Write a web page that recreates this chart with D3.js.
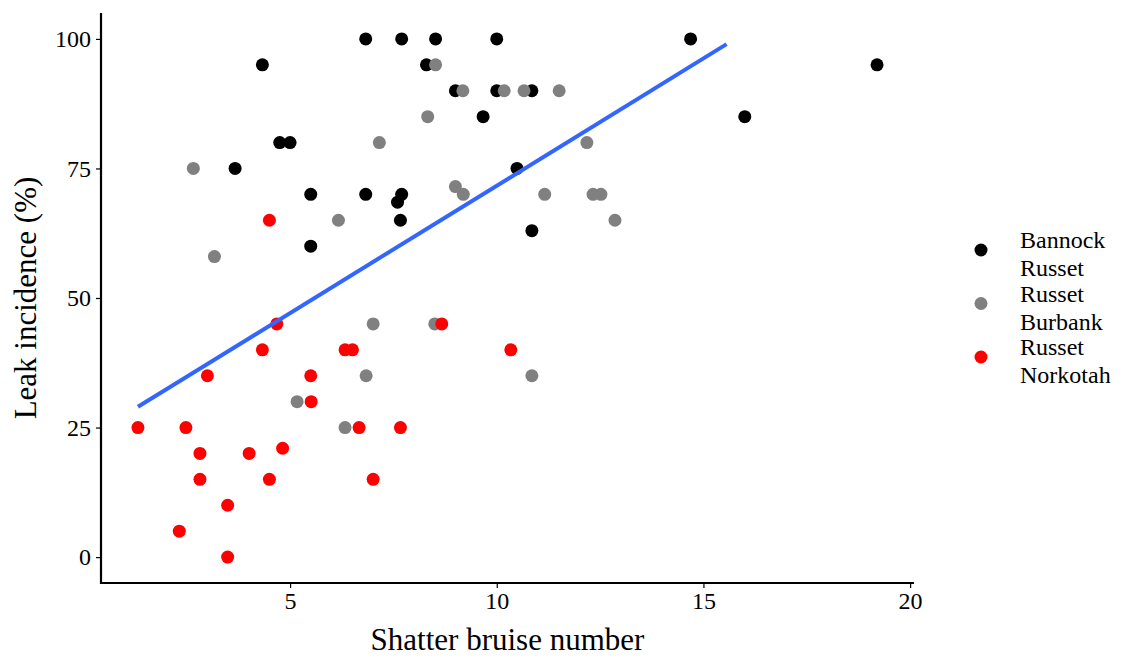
<!DOCTYPE html>
<html>
<head>
<meta charset="utf-8">
<script src="https://cdn.jsdelivr.net/npm/d3@7"></script>
<style>
  body { margin: 0; background: white; }
  svg { font-family: "Liberation Serif", "Times New Roman", serif; }
</style>
</head>
<body>
<svg width="1126" height="658"></svg>
<script>
// cultivar names and colours
const cultivars = ["Bannock Russet", "Russet Burbank", "Russet Norkotah"];
const cultivarColors = ["#000000", "#808080", "#FF0000"];

// shatter bruise number (x) and leak incidence % (y), per cultivar
const bannockX = [4.33, 6.83, 7.7, 8.52, 10.0, 14.69, 19.2, 16.0, 8.3, 9.0, 10.0, 10.85, 9.67, 4.75, 5.0, 3.67, 10.49, 5.5, 6.83, 7.7, 7.6, 7.67, 5.5, 10.85];
const bannockY = [95, 100, 100, 100, 100, 100, 95, 85, 95, 90, 90, 90, 85, 80, 80, 75, 75, 70, 70, 70, 68.5, 65, 60, 63];

const burbankX = [8.52, 9.18, 10.18, 10.66, 11.51, 8.33, 7.16, 12.18, 2.66, 9.0, 9.19, 11.16, 12.33, 12.52, 6.17, 12.86, 3.17, 7.01, 8.5, 10.85, 6.84, 5.17, 6.33];
const burbankY = [95, 90, 90, 90, 90, 85, 80, 80, 75, 71.5, 70, 70, 70, 70, 65, 65, 58, 45, 45, 35, 35, 30, 25];

const norkotahX = [4.5, 4.68, 8.67, 4.33, 6.33, 6.51, 10.34, 3.0, 5.5, 5.51, 1.32, 2.48, 6.67, 7.67, 2.82, 4.01, 4.82, 2.82, 4.5, 7.01, 3.49, 2.32, 3.49];
const norkotahY = [65, 45, 45, 40, 40, 40, 40, 35, 35, 30, 25, 25, 25, 25, 20, 20, 21, 15, 15, 15, 10, 5, 0];

// fitted line end points
const fitX = [1.32, 15.56];
const fitY = [29, 99];

const xTicks = [5, 10, 15, 20];
const yTicks = [0, 25, 50, 75, 100];

const svg = d3.select("svg");

const x = d3.scaleLinear()
    .domain([0.426, 20.094])
    .range([101, 914]);

const y = d3.scaleLinear()
    .domain([-5, 105])
    .range([583, 13]);

// axes
const xAxis = svg.append("g")
    .attr("transform", `translate(0,${583})`)
    .call(d3.axisBottom(x).tickValues(xTicks).tickSize(5).tickSizeOuter(0).tickPadding(4));
xAxis.select(".domain").attr("stroke-width", 2.2).attr("d", `M${x.range()[0] - 1},0H${x.range()[1]}`);
xAxis.selectAll(".tick line").attr("stroke-width", 1.2);
xAxis.selectAll("text")
    .style("font-size", "24px")
    .style("font-family", "Liberation Serif")
    .attr("fill", "#000");

const yAxis = svg.append("g")
    .attr("transform", `translate(${101},0)`)
    .call(d3.axisLeft(y).tickValues(yTicks).tickSize(5).tickSizeOuter(0).tickPadding(5));
yAxis.select(".domain").attr("stroke-width", 2.2).attr("d", `M0,${y.range()[1]}V${y.range()[0] + 1}`);
yAxis.selectAll(".tick line").attr("stroke-width", 1.2);
yAxis.selectAll("text")
    .style("font-size", "24px")
    .style("font-family", "Liberation Serif")
    .attr("fill", "#000");

// axis titles
svg.append("text")
    .attr("x", (x.range()[0] + x.range()[1]) / 2)
    .attr("y", 650)
    .attr("text-anchor", "middle")
    .style("font-size", "31px")
    .text("Shatter bruise number");

svg.append("text")
    .attr("transform", `translate(36,${(y.range()[0] + y.range()[1]) / 2}) rotate(-90)`)
    .attr("text-anchor", "middle")
    .style("font-size", "31px")
    .text("Leak incidence (%)");

// points
const series = [
    {xs: bannockX, ys: bannockY},
    {xs: burbankX, ys: burbankY},
    {xs: norkotahX, ys: norkotahY}
];

series.forEach((s, i) => {
    const pts = s.xs.map((v, j) => ({x: v, y: s.ys[j]}));
    svg.append("g").selectAll("circle")
        .data(pts)
        .join("circle")
        .attr("cx", d => x(d.x))
        .attr("cy", d => y(d.y))
        .attr("r", 6.5)
        .attr("fill", cultivarColors[i]);
});

// fit line
svg.append("path")
    .datum(fitX.map((v, i) => ({x: v, y: fitY[i]})))
    .attr("fill", "none")
    .attr("stroke", "#3366FF")
    .attr("stroke-width", 4)
    .attr("d", d3.line().x(d => x(d.x)).y(d => y(d.y)));

// legend
const legend = svg.append("g").attr("transform", "translate(981,250)");
cultivars.forEach((name, i) => {
    const g = legend.append("g").attr("transform", `translate(0,${i * 53.5})`);
    g.append("circle").attr("r", 6.5).attr("fill", cultivarColors[i]);
    const words = name.split(" ");
    g.append("text")
        .attr("x", 39)
        .attr("y", -2)
        .style("font-size", "24px")
        .text(words[0]);
    g.append("text")
        .attr("x", 39)
        .attr("y", 26)
        .style("font-size", "24px")
        .text(words[1]);
});
</script>
</body>
</html>
